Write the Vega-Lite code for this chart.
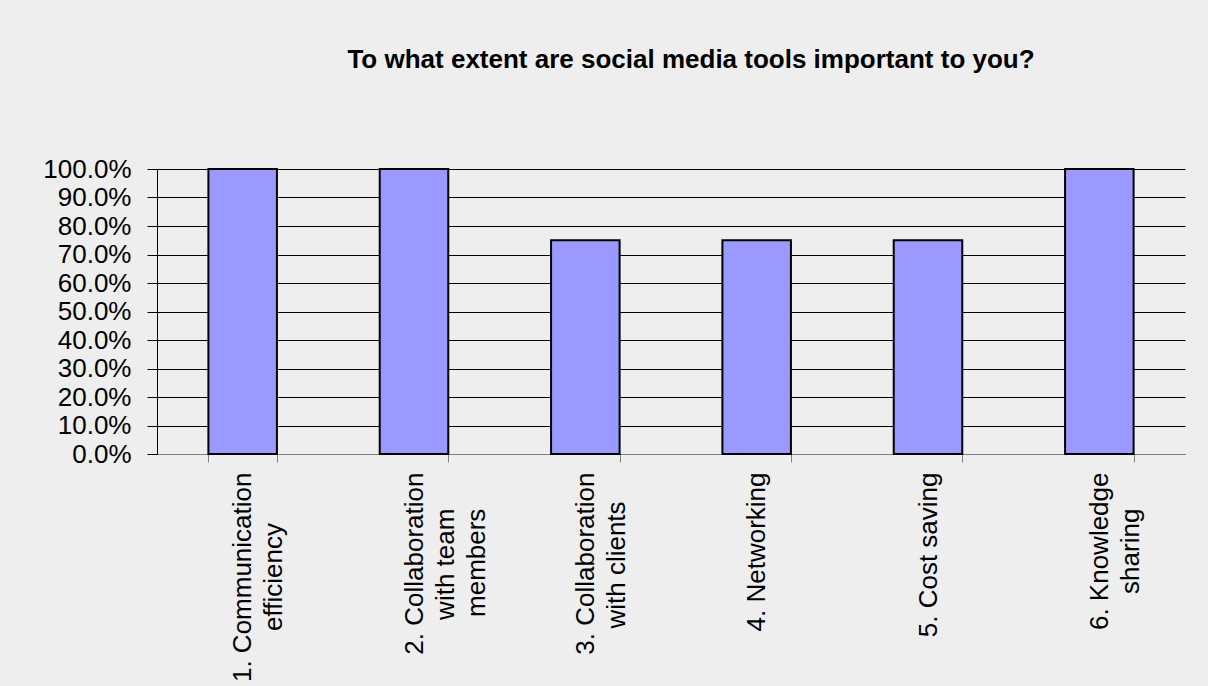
{
  "$schema": "https://vega.github.io/schema/vega-lite/v6.json",
  "width": 1028,
  "height": 285,
  "autosize": {"type": "none"},
  "padding": {"left": 157, "top": 169, "right": 23, "bottom": 232},
  "background": "#eeeeee",
  "title": {
    "text": "To what extent are social media tools important to you?",
    "font": "Liberation Sans",
    "fontSize": 26,
    "fontWeight": "bold",
    "color": "#000000",
    "anchor": "middle",
    "dx": 20,
    "offset": 62,
    "baseline": "alphabetic"
  },
  "data": {
    "values": [
      {"category": "1. Communication efficiency", "value": 1.0},
      {"category": "2. Collaboration with team members", "value": 1.0},
      {"category": "3. Collaboration with clients", "value": 0.75},
      {"category": "4. Networking", "value": 0.75},
      {"category": "5. Cost saving", "value": 0.75},
      {"category": "6. Knowledge sharing", "value": 1.0}
    ]
  },
  "mark": {"type": "bar", "fill": "#9999ff", "stroke": "#000000", "strokeWidth": 2},
  "encoding": {
    "x": {
      "field": "category",
      "type": "nominal",
      "sort": null,
      "scale": {"paddingInner": 0.6, "paddingOuter": 0.3},
      "axis": {
        "title": null,
        "labelAngle": -90,
        "labelAlign": "right",
        "labelBaseline": "middle",
        "labelFont": "Liberation Sans",
        "labelFontSize": 26,
        "labelColor": "#000000",
        "labelLineHeight": 31,
        "labelPadding": 10,
        "labelOverlap": false,
        "labelLimit": 0,
        "tickBand": "extent",
        "tickSize": 8,
        "tickColor": "#808080",
        "domainColor": "#808080",
        "labelExpr": "{'1. Communication efficiency': ['1. Communication', pad('efficiency', 17, '\u00a0') + '\u200b'], '2. Collaboration with team members': ['2. Collaboration', pad('with team', 14, '\u00a0') + '\u200b', pad('members', 12, '\u00a0') + '\u200b'], '3. Collaboration with clients': ['3. Collaboration', pad('with clients', 16, '\u00a0') + '\u200b'], '6. Knowledge sharing': ['6. Knowledge', pad('sharing', 12, '\u00a0') + '\u200b']}[datum.value] || datum.value"
      }
    },
    "y": {
      "field": "value",
      "type": "quantitative",
      "scale": {"domain": [0, 1], "nice": false},
      "axis": {
        "title": null,
        "values": [0, 0.1, 0.2, 0.3, 0.4, 0.5, 0.6, 0.7, 0.8, 0.9, 1.0],
        "format": ".1%",
        "labelFont": "Liberation Sans",
        "labelFontSize": 26,
        "labelColor": "#000000",
        "labelPadding": 16,
        "tickSize": 10,
        "tickColor": "#000000",
        "domainColor": "#000000",
        "grid": true,
        "gridColor": "#000000",
        "gridWidth": 1,
        "gridOpacity": 1
      }
    }
  },
  "config": {
    "view": {"stroke": null}
  }
}
